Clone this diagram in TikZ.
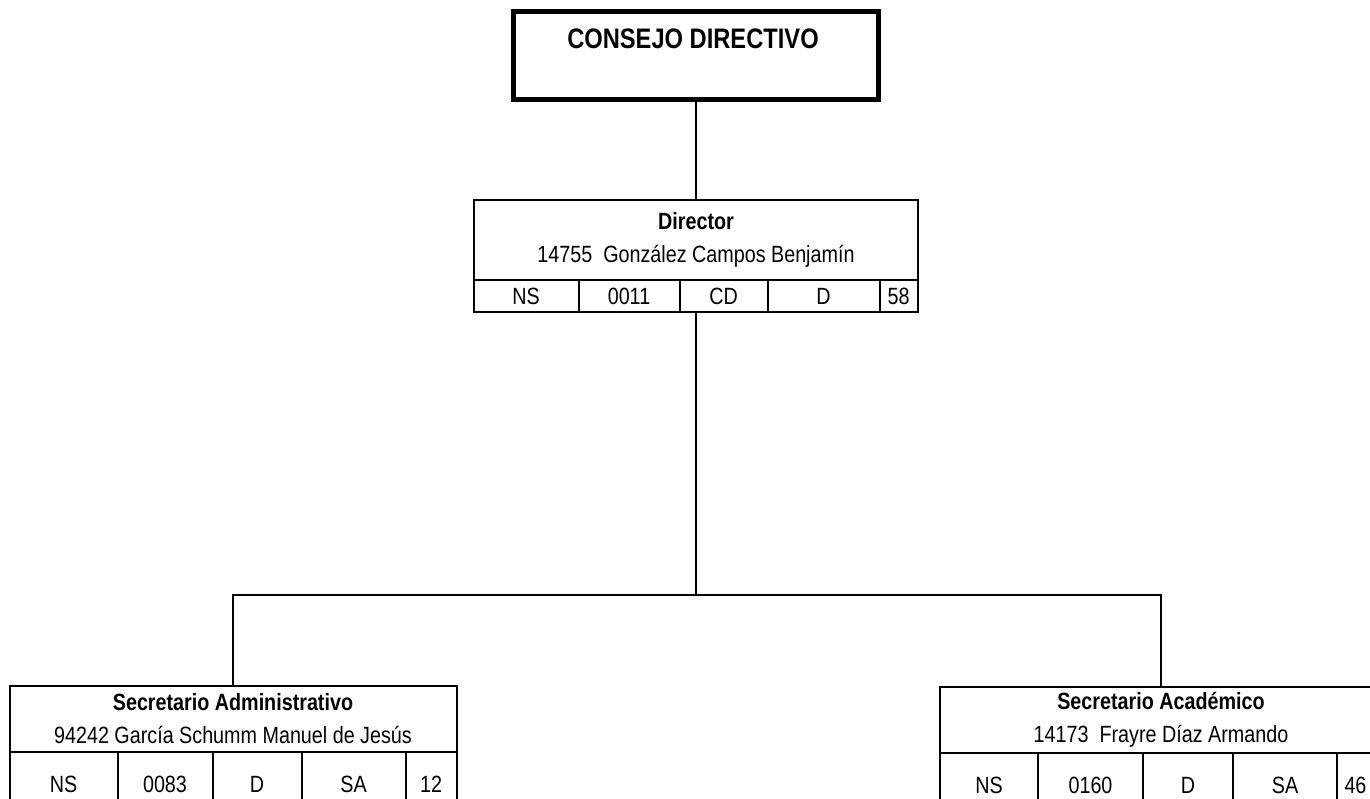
\documentclass[tikz,border=0pt]{standalone}
\usepackage{fontspec}
\setmainfont{Liberation Sans}[FakeStretch=0.84]
\tikzset{
  consejobox/.style={draw, line width=5.5pt, minimum width=365, minimum height=88},
  titulo/.style={inner sep=0pt, font=\bfseries\fontsize{28.2}{34}\selectfont},
  cargo/.style={draw, line width=2pt, align=center, inner sep=0pt, font=\fontsize{23.5}{33}\selectfont},
  celda/.style={draw, line width=2pt, inner sep=0pt, font=\fontsize{23.5}{28}\selectfont},
  linea/.style={line width=1.6pt},
}
\begin{document}
\begin{tikzpicture}[x=1pt,y=-1pt]
\path[fill=white,use as bounding box] (0,0) rectangle (1370,798);
\node (consejo) at (696,55.5) [consejobox] {};
\node (consejo-texto) at (693,39) [titulo] {CONSEJO DIRECTIVO};
\node (director) at (696,240) [cargo,minimum width=444,minimum height=80] {\textbf{Director}\\14755\ \ González Campos Benjamín};
\node (dir-1) at (526,296) [celda,minimum width=105,minimum height=32] {NS};
\node (dir-2) at (629,296) [celda,minimum width=101,minimum height=32] {0011};
\node (dir-3) at (723.5,296) [celda,minimum width=88,minimum height=32] {CD};
\node (dir-4) at (823.5,296) [celda,minimum width=112,minimum height=32] {D};
\node (dir-5) at (898.5,296) [celda,minimum width=38,minimum height=32] {58};
\node (admin) at (233,719) [cargo,minimum width=447,minimum height=66] {\textbf{Secretario Administrativo}\\94242 García Schumm Manuel de Jesús};
\node (adm-1) at (63.5,784) [celda,minimum width=108,minimum height=64] {NS};
\node (adm-2) at (165,784) [celda,minimum width=95,minimum height=64] {0083};
\node (adm-3) at (257,784) [celda,minimum width=89,minimum height=64] {D};
\node (adm-4) at (353.5,784) [celda,minimum width=104,minimum height=64] {SA};
\node (adm-5) at (431,784) [celda,minimum width=51,minimum height=64] {12};
\node (academico) at (1161,720) [cargo,minimum width=442,minimum height=66] {\textbf{Secretario Académico}\\14173\ \ Frayre Díaz Armando};
\node (aca-1) at (989,785) [celda,minimum width=98,minimum height=64] {NS};
\node (aca-2) at (1090.5,785) [celda,minimum width=105,minimum height=64] {0160};
\node (aca-3) at (1188,785) [celda,minimum width=90,minimum height=64] {D};
\node (aca-4) at (1285,785) [celda,minimum width=104,minimum height=64] {SA};
\node (aca-5) at (1359.5,785) [celda,minimum width=45,minimum height=64,text width=30,align=left] {46};
\coordinate (bus) at (696,595);
\draw[linea] (consejo.south) -- (director.north);
\draw[linea] (director.south |- dir-3.south) -- (bus);
\draw[linea] (admin.north) |- (bus) -| (academico.north);
\end{tikzpicture}
\end{document}
